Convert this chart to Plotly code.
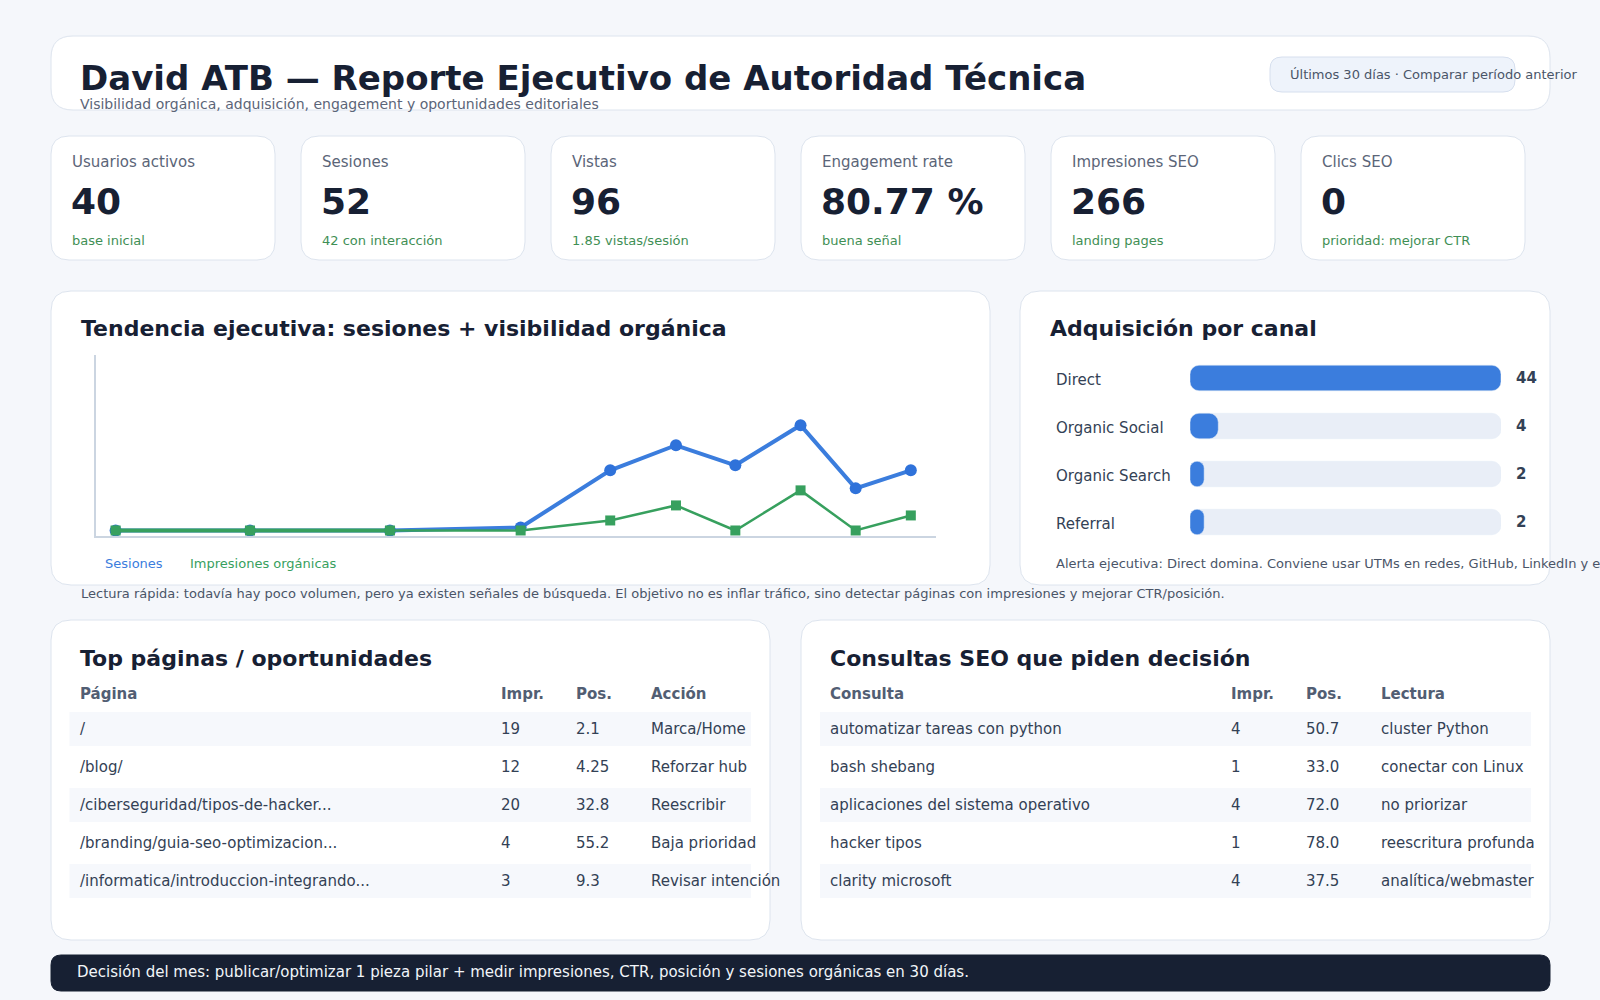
import plotly.graph_objects as go

W, H = 1600, 1000
FONT = "DejaVu Sans"

# ---------------- data ----------------
kpi_labels = ["Usuarios activos", "Sesiones", "Vistas", "Engagement rate", "Impresiones SEO", "Clics SEO"]
kpi_values = ["40", "52", "96", "80.77 %", "266", "0"]
kpi_notes = ["base inicial", "42 con interacción", "1.85 vistas/sesión", "buena señal", "landing pages", "prioridad: mejorar CTR"]

trend_days = [0, 5.07, 10.35, 15.28, 18.66, 21.14, 23.38, 25.84, 27.92, 30.0]
sessions = [0, 0, 0, 0.6, 12, 17, 13, 21, 8.4, 12]
impressions = [0, 0, 0, 0, 2, 5, 0, 8, 0, 3]

channels = ["Direct", "Organic Social", "Organic Search", "Referral"]
channel_values = [44, 4, 2, 2]

pages = ["/", "/blog/", "/ciberseguridad/tipos-de-hacker...", "/branding/guia-seo-optimizacion...",
         "/informatica/introduccion-integrando..."]
pages_impr = [19, 12, 20, 4, 3]
pages_pos = [2.1, 4.25, 32.8, 55.2, 9.3]
pages_action = ["Marca/Home", "Reforzar hub", "Reescribir", "Baja prioridad", "Revisar intención"]

queries = ["automatizar tareas con python", "bash shebang", "aplicaciones del sistema operativo",
           "hacker tipos", "clarity microsoft"]
queries_impr = [4, 1, 4, 1, 4]
queries_pos = [50.7, 33.0, 72.0, 78.0, 37.5]
queries_read = ["cluster Python", "conectar con Linux", "no priorizar", "reescritura profunda", "analítica/webmaster"]

# ---------------- colors ----------------
BG = "#f5f7fb"
CARD = "#ffffff"
BORDER = "#dde4ee"
DARK = "#172033"
GRAY = "#5b6578"
TEXT = "#334155"
GREEN_TXT = "#3f8f55"
BLUE = "#3b7ddd"
BLUE_MK = "#2f72da"
GREEN = "#37a05e"
TRACK = "#e9eef7"
STRIPE = "#f6f8fc"


def fx(x):
    return x / W


def fy(y):
    return 1 - y / H


shapes = []
annotations = []


def rrect(x0, y0, x1, y1, r, fill, line=BORDER, lw=1):
    rx, ry = r / W, r / H
    X0, X1 = fx(x0), fx(x1)
    Y0, Y1 = fy(y0), fy(y1)
    path = (f"M {X0+rx},{Y0} L {X1-rx},{Y0} Q {X1},{Y0} {X1},{Y0-ry} "
            f"L {X1},{Y1+ry} Q {X1},{Y1} {X1-rx},{Y1} L {X0+rx},{Y1} "
            f"Q {X0},{Y1} {X0},{Y1+ry} L {X0},{Y0-ry} Q {X0},{Y0} {X0+rx},{Y0} Z")
    shapes.append(dict(type="path", path=path, xref="paper", yref="paper",
                       fillcolor=fill, line=dict(color=line, width=lw), layer="below"))


def text(x, y, s, size, color, bold=False, anchor="left"):
    annotations.append(dict(x=fx(x), y=fy(y), xref="paper", yref="paper",
                            text=f"<b>{s}</b>" if bold else s, showarrow=False,
                            xanchor=anchor, yanchor="middle",
                            font=dict(family=FONT, size=size, color=color)))


# ---------------- header ----------------
rrect(51, 36, 1550, 110, 22, CARD)
text(78, 78, "David ATB — Reporte Ejecutivo de Autoridad Técnica", 34, DARK, bold=True)
text(78, 104, "Visibilidad orgánica, adquisición, engagement y oportunidades editoriales", 14, GRAY)
rrect(1270, 57, 1515, 92, 12, "#eef3fb", line="#d6dfee")
text(1288, 75, "Últimos 30 días · Comparar período anterior", 13, "#4a5568")

# ---------------- KPI cards ----------------
for i in range(len(kpi_labels)):
    x0 = 51 + 250 * i
    rrect(x0, 136, x0 + 224, 260, 18, CARD)
    text(x0 + 18.5, 162, kpi_labels[i], 15, GRAY)
    text(x0 + 18, 202, kpi_values[i], 36, DARK, bold=True)
    text(x0 + 18.5, 240, kpi_notes[i], 13, GREEN_TXT)

# ---------------- trend card ----------------
rrect(51, 291, 990, 585, 20, CARD)
text(78.5, 328, "Tendencia ejecutiva: sesiones + visibilidad orgánica", 22, DARK, bold=True)
text(103, 563, "Sesiones", 13, BLUE)
text(188, 563, "Impresiones orgánicas", 13, GREEN)
text(78.5, 593, "Lectura rápida: todavía hay poco volumen, pero ya existen señales de búsqueda. "
                "El objetivo no es inflar tráfico, sino detectar páginas con impresiones y mejorar CTR/posición.",
     13, "#4a5568")

# ---------------- acquisition card ----------------
rrect(1020, 291, 1550, 585, 20, CARD)
text(1048, 328, "Adquisición por canal", 22, DARK, bold=True)
text(1054, 563, "Alerta ejecutiva: Direct domina. Conviene usar UTMs en redes, GitHub, LinkedIn y email.",
     13, "#4a5568")
for c, v in zip(channels, channel_values):
    annotations.append(dict(x=fx(1054), y=c, xref="paper", yref="y2", text=c, showarrow=False,
                            xanchor="left", yanchor="middle", yshift=-2,
                            font=dict(family=FONT, size=15, color=TEXT)))
    annotations.append(dict(x=fx(1514), y=c, xref="paper", yref="y2", text=f"<b>{v}</b>", showarrow=False,
                            xanchor="left", yanchor="middle", yshift=0,
                            font=dict(family=FONT, size=15, color=TEXT)))

# ---------------- tables ----------------
row_y = [729, 767, 805, 843, 881]


def table(card_x0, card_x1, title, cols_x, headers, columns, stripe_x0, stripe_x1):
    rrect(card_x0, 620, card_x1, 940, 20, CARD)
    text(cols_x[0], 658, title, 22, DARK, bold=True)
    for hx, h in zip(cols_x, headers):
        text(hx, 694, h, 15, "#525e73", bold=True)
    for r, yc in enumerate(row_y):
        if r % 2 == 0:
            shapes.append(dict(type="rect", xref="paper", yref="paper",
                               x0=fx(stripe_x0), x1=fx(stripe_x1), y0=fy(yc - 17), y1=fy(yc + 17),
                               fillcolor=STRIPE, line=dict(width=0), layer="below"))
        for cx, col in zip(cols_x, columns):
            text(cx, yc, col[r], 15, TEXT)


table(51, 770, "Top páginas / oportunidades", [78, 498.5, 573.5, 648.5],
      ["Página", "Impr.", "Pos.", "Acción"],
      [pages, [str(v) for v in pages_impr], [str(v) for v in pages_pos], pages_action], 69.5, 751)
table(801, 1550, "Consultas SEO que piden decisión", [828, 1228.5, 1303.5, 1378.5],
      ["Consulta", "Impr.", "Pos.", "Lectura"],
      [queries, [str(v) for v in queries_impr], [f"{v:.1f}" for v in queries_pos], queries_read], 820, 1531)

# ---------------- footer ----------------
rrect(51, 955, 1550, 991, 10, DARK, line=DARK)
text(75, 972, "Decisión del mes: publicar/optimizar 1 pieza pilar + medir impresiones, CTR, posición y "
              "sesiones orgánicas en 30 días.", 15, "#f1f5f9")

# ---------------- traces ----------------
fig = go.Figure()
fig.add_trace(go.Scatter(x=trend_days, y=sessions, mode="lines+markers", name="Sesiones",
                         line=dict(color=BLUE, width=4),
                         marker=dict(symbol="circle", size=12, color=BLUE_MK),
                         xaxis="x", yaxis="y", showlegend=False, hoverinfo="skip"))
fig.add_trace(go.Scatter(x=trend_days, y=impressions, mode="lines+markers", name="Impresiones orgánicas",
                         line=dict(color=GREEN, width=2.5),
                         marker=dict(symbol="square", size=10, color=GREEN),
                         xaxis="x", yaxis="y", showlegend=False, hoverinfo="skip"))
fig.add_trace(go.Scatter(x=trend_days[:3], y=impressions[:3], mode="lines+markers",
                         line=dict(color=GREEN, width=4),
                         marker=dict(symbol="circle", size=10, color=GREEN),
                         xaxis="x", yaxis="y", showlegend=False, hoverinfo="skip"))

# floating bars (explicit base) get rounded corners on both ends
for vals, color in (([max(channel_values)] * len(channels), TRACK), (channel_values, BLUE)):
    fig.add_trace(go.Bar(y=channels, x=vals, base=[0] * len(channels), orientation="h",
                         marker=dict(color=color, cornerradius=9),
                         width=0.53, xaxis="x2", yaxis="y2", showlegend=False, hoverinfo="skip"))

fig.update_layout(
    width=W, height=H, margin=dict(l=0, r=0, t=0, b=0),
    paper_bgcolor=BG, plot_bgcolor="rgba(0,0,0,0)",
    barmode="overlay",
    font=dict(family=FONT),
    shapes=shapes, annotations=annotations,
    xaxis=dict(domain=[fx(96), fx(936)], range=[-0.74, 30.95], showgrid=False, zeroline=False,
               showticklabels=False, ticks="", showline=True, linecolor="#cbd5e1", linewidth=2),
    yaxis=dict(domain=[fy(536), fy(355)], range=[-1.1, 35], showgrid=False, zeroline=False,
               showticklabels=False, ticks="", showline=True, linecolor="#cbd5e1", linewidth=2),
    xaxis2=dict(domain=[fx(1190), fx(1501)], range=[0, max(channel_values)], showgrid=False,
                zeroline=False, showticklabels=False, ticks="", showline=False, anchor="y2"),
    yaxis2=dict(domain=[fy(546), fy(354)], autorange="reversed", showgrid=False, zeroline=False,
                showticklabels=False, ticks="", showline=False, anchor="x2", type="category"),
)

fig.write_html("out.html")
